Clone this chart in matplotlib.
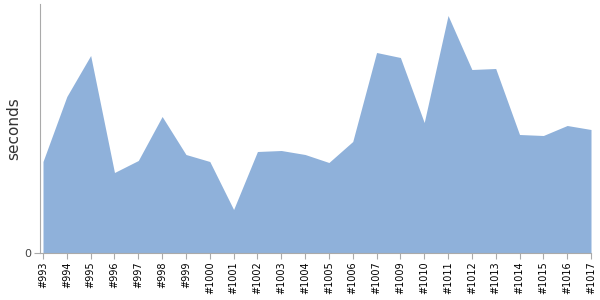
import matplotlib
matplotlib.use("Agg")
import matplotlib.pyplot as plt

builds = ["#993", "#994", "#995", "#996", "#997", "#998", "#999", "#1000", "#1001",
          "#1002", "#1003", "#1004", "#1005", "#1006", "#1007", "#1009", "#1010",
          "#1011", "#1012", "#1013", "#1014", "#1015", "#1016", "#1017"]
seconds = [91.5, 156.5, 197.5, 80.5, 92.5, 136.5, 98.5, 91.5, 43.5,
           101.5, 102.5, 98.5, 90.5, 111.5, 200.5, 195.5, 130.5,
           237.5, 183.5, 184.5, 118.5, 117.5, 127.5, 123.5]

fig = plt.figure(figsize=(6, 3), dpi=100)
ax = fig.add_axes([40 / 600, 47 / 300, 551 / 600, 249 / 300])
x = list(range(len(builds)))
ax.fill_between(x, 0, seconds, color="#8fb1da", linewidth=0)
ax.set_xlim(-0.126, len(builds) - 1)
ax.set_ylim(0, 249)
ax.set_xticks(x)
ax.set_xticklabels(builds, rotation=90, fontsize=7, color="black")
ax.set_yticks([0])
ax.set_yticklabels(["0"], fontsize=8, color="#444444")
ax.set_ylabel("seconds", fontsize=11, color="#333333")
ax.yaxis.set_label_coords(-0.035, 0.5)
for s in ["top", "right"]:
    ax.spines[s].set_visible(False)
for s in ["left", "bottom"]:
    ax.spines[s].set_color("#aaaaaa")
    ax.spines[s].set_linewidth(0.8)
ax.tick_params(axis="both", colors="#aaaaaa", length=4, width=0.8, pad=2)
for lbl in ax.get_xticklabels():
    lbl.set_color("black")
for lbl in ax.get_yticklabels():
    lbl.set_color("#444444")
fig.savefig("out.png", dpi=100)
